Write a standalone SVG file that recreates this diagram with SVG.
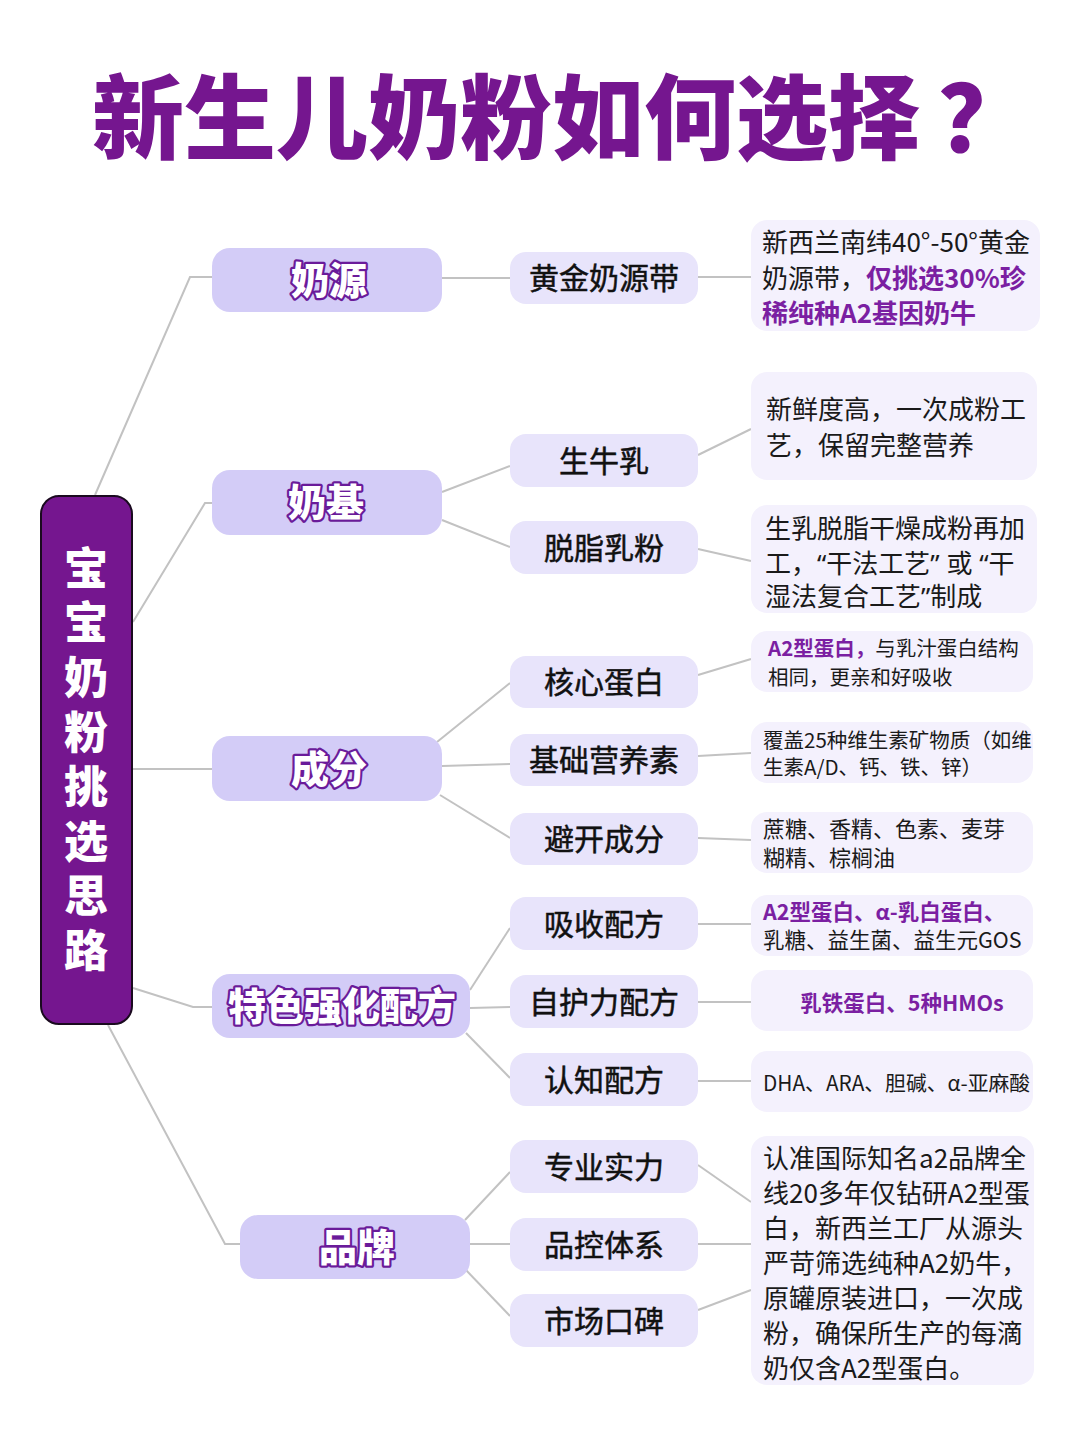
<svg xmlns="http://www.w3.org/2000/svg" width="1080" height="1443" viewBox="0 0 1080 1443">
<style>
text{font-family:"Noto Sans CJK SC","Noto Sans",sans-serif}
.title{font-size:92px;font-weight:900;fill:#75168f}
.root rect{fill:#75168f;stroke:#1a0a1f;stroke-width:2}
.roott{font-size:44px;font-weight:900;fill:#fff;writing-mode:vertical-rl;letter-spacing:10.6px}
.l1 rect{fill:#d3ccf7}
.l1t{font-size:38px;font-weight:900;fill:#fff;stroke:#6a1b9a;stroke-width:4.5px;paint-order:stroke;stroke-linejoin:round;text-anchor:middle}
.l2 rect{fill:#e8e4fb}
.l2t{font-size:30px;fill:#111;stroke:#111;stroke-width:0.5px;text-anchor:middle}
.d rect{fill:#f4f1fd}
.dt{fill:#1a1a1a}
.hl{fill:#7b1fa2;font-weight:bold}
text.q{font-family:"Noto Sans","Noto Sans CJK SC",sans-serif}
.c path{stroke:#c2c2c2;stroke-width:2;fill:none}
</style>
<rect width="1080" height="1443" fill="#fff"/>
<text class="title" x="92" y="152">新生儿奶粉如何选择<tspan dx="18">？</tspan></text>

<g class="c" id="connectors">
<path d="M95,495 L190,277 L212,277"/>
<path d="M133,622 L205,503 L212,503"/>
<path d="M133,769 L212,769"/>
<path d="M133,988 L193,1007 L212,1007"/>
<path d="M108,1025 L225,1244 L240,1244"/>
<path d="M442,278 L510,278"/>
<path d="M442,492 L510,466"/>
<path d="M442,520 L510,547"/>
<path d="M437,742 L510,683"/>
<path d="M442,766 L510,764"/>
<path d="M440,795 L510,838"/>
<path d="M470,990 L510,928"/>
<path d="M470,1008 L510,1007"/>
<path d="M466,1033 L510,1078"/>
<path d="M465,1220 L510,1172"/>
<path d="M470,1244 L510,1244"/>
<path d="M466,1270 L510,1316"/>
<path d="M698,277 L751,277"/>
<path d="M698,455 L751,429"/>
<path d="M698,549 L751,561"/>
<path d="M698,675 L751,659"/>
<path d="M698,756 L751,753"/>
<path d="M698,838 L751,840"/>
<path d="M698,924 L751,924"/>
<path d="M698,1002 L751,1002"/>
<path d="M698,1081 L751,1081"/>
<path d="M698,1165 L751,1202"/>
<path d="M698,1244 L751,1244"/>
<path d="M698,1310 L751,1290"/>
</g>

<g class="root" id="root">
<rect x="41" y="496" width="91" height="528" rx="18"/>
<text class="roott" x="86" y="546">宝宝奶粉挑选思路</text>
</g>

<g class="l1" id="n-naiyuan"><rect x="212" y="248" width="230" height="64" rx="18"/><text class="l1t" x="329" y="294">奶源</text></g>
<g class="l1" id="n-naiji"><rect x="212" y="470" width="230" height="65" rx="18"/><text class="l1t" x="326" y="516">奶基</text></g>
<g class="l1" id="n-chengfen"><rect x="212" y="736" width="230" height="65" rx="18"/><text class="l1t" x="329" y="783">成分</text></g>
<g class="l1" id="n-tese"><rect x="212" y="974" width="258" height="64" rx="18"/><text class="l1t" x="342" y="1020">特色强化配方</text></g>
<g class="l1" id="n-pinpai"><rect x="240" y="1215" width="230" height="64" rx="18"/><text class="l1t" x="357" y="1261">品牌</text></g>

<g class="l2" id="n-huangjin"><rect x="510" y="252" width="188" height="52" rx="16"/><text class="l2t" x="604" y="289">黄金奶源带</text></g>
<g class="l2" id="n-shengniuru"><rect x="510" y="434" width="188" height="53" rx="16"/><text class="l2t" x="604" y="472">生牛乳</text></g>
<g class="l2" id="n-tuozhi"><rect x="510" y="521" width="188" height="53" rx="16"/><text class="l2t" x="604" y="559">脱脂乳粉</text></g>
<g class="l2" id="n-hexin"><rect x="510" y="656" width="188" height="52" rx="16"/><text class="l2t" x="604" y="693">核心蛋白</text></g>
<g class="l2" id="n-jichu"><rect x="510" y="734" width="188" height="52" rx="16"/><text class="l2t" x="604" y="771">基础营养素</text></g>
<g class="l2" id="n-bikai"><rect x="510" y="813" width="188" height="52" rx="16"/><text class="l2t" x="604" y="850">避开成分</text></g>
<g class="l2" id="n-xishou"><rect x="510" y="897" width="188" height="53" rx="16"/><text class="l2t" x="604" y="935">吸收配方</text></g>
<g class="l2" id="n-zihu"><rect x="510" y="975" width="188" height="53" rx="16"/><text class="l2t" x="604" y="1013">自护力配方</text></g>
<g class="l2" id="n-renzhi"><rect x="510" y="1053" width="188" height="53" rx="16"/><text class="l2t" x="604" y="1091">认知配方</text></g>
<g class="l2" id="n-zhuanye"><rect x="510" y="1140" width="188" height="53" rx="16"/><text class="l2t" x="604" y="1178">专业实力</text></g>
<g class="l2" id="n-pinkong"><rect x="510" y="1218" width="188" height="53" rx="16"/><text class="l2t" x="604" y="1256">品控体系</text></g>
<g class="l2" id="n-shichang"><rect x="510" y="1294" width="188" height="53" rx="16"/><text class="l2t" x="604" y="1332">市场口碑</text></g>

<g class="d" id="d-huangjin"><rect x="751" y="220" width="289" height="111" rx="16"/>
<text class="dt" font-size="26"><tspan x="762" y="252">新西兰南纬40°-50°黄金</tspan><tspan x="762" y="288">奶源带，<tspan class="hl">仅挑选30%珍</tspan></tspan><tspan x="762" y="323" class="hl">稀纯种A2基因奶牛</tspan></text></g>
<g class="d" id="d-shengniuru"><rect x="751" y="372" width="286" height="108" rx="16"/>
<text class="dt" font-size="26"><tspan x="766" y="419">新鲜度高，一次成粉工</tspan><tspan x="766" y="455">艺，保留完整营养</tspan></text></g>
<g class="d" id="d-tuozhi"><rect x="751" y="505" width="286" height="108" rx="16"/>
<text class="dt" font-size="26"><tspan x="765" y="538">生乳脱脂干燥成粉再加</tspan></text>
<text class="dt q" font-size="26" x="765" y="573">工，“干法工艺” 或 “干</text>
<text class="dt q" font-size="26" x="765" y="606">湿法复合工艺”制成</text></g>
<g class="d" id="d-hexin"><rect x="751" y="631" width="282" height="61" rx="16"/>
<text class="dt" font-size="20.5" x="768" y="656"><tspan class="hl">A2型蛋白，</tspan>与乳汁蛋白结构</text>
<text class="dt" font-size="20.5" x="768" y="685">相同，更亲和好吸收</text></g>
<g class="d" id="d-jichu"><rect x="751" y="722" width="282" height="61" rx="16"/>
<text class="dt" font-size="20.5"><tspan x="763" y="748">覆盖25种维生素矿物质（如维</tspan><tspan x="763" y="775">生素A/D、钙、铁、锌）</tspan></text></g>
<g class="d" id="d-bikai"><rect x="751" y="812" width="282" height="61" rx="16"/>
<text class="dt" font-size="22"><tspan x="763" y="837">蔗糖、香精、色素、麦芽</tspan><tspan x="763" y="866">糊精、棕榈油</tspan></text></g>
<g class="d" id="d-xishou"><rect x="751" y="895" width="282" height="61" rx="16"/>
<text class="dt" font-size="21.5"><tspan x="763" y="920" class="hl">A2型蛋白、α-乳白蛋白、</tspan><tspan x="763" y="948">乳糖、益生菌、益生元GOS</tspan></text></g>
<g class="d" id="d-zihu"><rect x="751" y="970" width="282" height="61" rx="16"/>
<text class="dt hl" font-size="21.5" x="902" y="1011" text-anchor="middle">乳铁蛋白、5种HMOs</text></g>
<g class="d" id="d-renzhi"><rect x="751" y="1051" width="282" height="61" rx="16"/>
<text class="dt" font-size="20.8" x="763" y="1091">DHA、ARA、胆碱、α-亚麻酸</text></g>
<g class="d" id="d-pinpai"><rect x="751" y="1136" width="283" height="249" rx="16"/>
<text class="dt" font-size="26"><tspan x="763" y="1168">认准国际知名a2品牌全</tspan><tspan x="763" y="1203">线20多年仅钻研A2型蛋</tspan><tspan x="763" y="1238">白，新西兰工厂从源头</tspan><tspan x="763" y="1273">严苛筛选纯种A2奶牛，</tspan><tspan x="763" y="1308">原罐原装进口，一次成</tspan><tspan x="763" y="1343">粉，确保所生产的每滴</tspan><tspan x="763" y="1378">奶仅含A2型蛋白。</tspan></text></g>
</svg>
